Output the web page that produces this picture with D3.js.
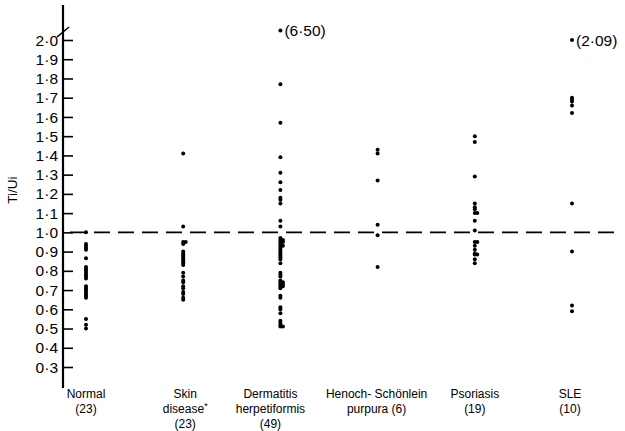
<!DOCTYPE html>
<html>
<head>
<meta charset="utf-8">
<script src="https://cdn.jsdelivr.net/npm/d3@7"></script>
<style>
  html, body { margin: 0; padding: 0; background: #fff; }
  svg { display: block; font-family: "Liberation Sans", "DejaVu Sans", sans-serif; }
</style>
</head>
<body>
<svg id="chart" width="625" height="431"></svg>
<script>
// ---- DATA ----
const categories = ["Normal", "Skin disease", "Dermatitis herpetiformis", "Henoch-Schönlein purpura", "Psoriasis", "SLE"];
const categoryLines = [
  ["Normal", "(23)"],
  ["Skin", "disease*", "(23)"],
  ["Dermatitis", "herpetiformis", "(49)"],
  ["Henoch- Schönlein", "purpura (6)"],
  ["Psoriasis", "(19)"],
  ["SLE", "(10)"]
];
const labelShift = [0, 2, -10, -1, 0, -2];

const normal = [1.00, 0.94, 0.93, 0.92, 0.91, 0.865, 0.82, 0.81, 0.80, 0.79, 0.78, 0.77, 0.76,
  0.72, 0.71, 0.70, 0.69, 0.68, 0.67, 0.66, 0.55, 0.52, 0.50];
const skinDisease = [1.41, 1.03, 0.95, 0.95, 0.94, 0.90, 0.89, 0.88, 0.87, 0.86, 0.85, 0.84, 0.83,
  0.79, 0.77, 0.75, 0.74, 0.72, 0.71, 0.69, 0.68, 0.66, 0.65];
const dermatitis = [1.77, 1.57, 1.39, 1.31, 1.26, 1.22, 1.18, 1.17, 1.15, 1.06, 1.03,
  0.97, 0.96, 0.96, 0.95, 0.95, 0.94, 0.93, 0.93, 0.92, 0.91, 0.90, 0.89, 0.88, 0.87, 0.86, 0.84,
  0.79, 0.78, 0.77, 0.75, 0.74, 0.74, 0.73, 0.73, 0.72, 0.72, 0.71, 0.67, 0.66,
  0.61, 0.60, 0.58, 0.54, 0.53, 0.52, 0.51, 0.51];
const henoch = [1.43, 1.41, 1.27, 1.04, 0.985, 0.82];
const psoriasis = [1.50, 1.47, 1.29, 1.15, 1.13, 1.12, 1.10, 1.10, 1.06, 1.01,
  0.95, 0.95, 0.93, 0.91, 0.89, 0.885, 0.885, 0.86, 0.84];
const sle = [1.70, 1.69, 1.68, 1.66, 1.62, 1.15, 0.90, 0.62, 0.59];
const groups = [normal, skinDisease, dermatitis, henoch, psoriasis, sle];

// values beyond the axis break: shown at the top with their value written
const outlierGroup = [2, 5];
const outlierValue = [6.50, 2.09];
const outlierPlotAt = [2.05, 2.0];

const yTicks = [2.0, 1.9, 1.8, 1.7, 1.6, 1.5, 1.4, 1.3, 1.2, 1.1, 1.0, 0.9, 0.8, 0.7, 0.6, 0.5, 0.4, 0.3];
const refLine = 1.0;

// ---- SCALES ----
const svg = d3.select("#chart");
const axisX = 63;

const y = d3.scaleLinear().domain([0.3, 2.0]).range([367, 40]);
const x = d3.scalePoint().domain(categories).range([86, 572]);

const fmt = v => d3.format(".1f")(v).replace(".", "\u00b7");
const fmt2 = v => d3.format(".2f")(v).replace(".", "\u00b7");

// ---- AXIS ----
const axis = d3.axisRight(y)
  .tickValues(yTicks)
  .tickSize(10)
  .tickFormat("");

const ag = svg.append("g")
  .attr("transform", `translate(${axisX},0)`)
  .call(axis);
ag.select(".domain").remove();
ag.selectAll(".tick line").attr("stroke", "#000").attr("stroke-width", 1.6);

svg.append("line")
  .attr("x1", axisX).attr("x2", axisX)
  .attr("y1", 5).attr("y2", 388)
  .attr("stroke", "#000").attr("stroke-width", 2.2);

// break mark
svg.append("line")
  .attr("x1", axisX - 6).attr("y1", y(2.0) - 3)
  .attr("x2", axisX + 6).attr("y2", y(2.0) - 13)
  .attr("stroke", "#000").attr("stroke-width", 1.6);

svg.append("g").selectAll("text")
  .data(yTicks)
  .join("text")
  .attr("x", axisX - 5)
  .attr("y", d => y(d))
  .attr("dy", "0.36em")
  .attr("text-anchor", "end")
  .attr("font-size", 15.5)
  .attr("fill", "#000")
  .text(fmt);

svg.append("text")
  .attr("transform", `translate(17,190) rotate(-90)`)
  .attr("text-anchor", "middle")
  .attr("font-size", 13.5)
  .attr("fill", "#000")
  .text("Ti/Ui");

// ---- REFERENCE LINE ----
svg.append("line")
  .attr("x1", 70).attr("x2", 616)
  .attr("y1", y(refLine)).attr("y2", y(refLine))
  .attr("stroke", "#000")
  .attr("stroke-width", 1.8)
  .attr("stroke-dasharray", "16,8");

// ---- POINTS ----
let points = [];
groups.forEach((vals, gi) => {
  let sorted = vals.slice().sort((a, b) => b - a);
  let prevY = -99, prevDx = 0;
  sorted.forEach(v => {
    let py = y(v);
    let dx = 0;
    if (Math.abs(py - prevY) < 1.5) dx = prevDx === 0 ? 2.5 : 0;
    points.push({ cx: x(categories[gi]) + dx, cy: py });
    prevY = py;
    prevDx = dx;
  });
});

svg.append("g").selectAll("circle")
  .data(points)
  .join("circle")
  .attr("cx", d => d.cx)
  .attr("cy", d => d.cy)
  .attr("r", 2)
  .attr("fill", "#000");

// outliers
const og = svg.append("g");
outlierGroup.forEach((gi, i) => {
  let cx = x(categories[gi]);
  let cy = y(outlierPlotAt[i]);
  og.append("circle").attr("cx", cx).attr("cy", cy).attr("r", 2).attr("fill", "#000");
  og.append("text")
    .attr("x", cx + 4)
    .attr("y", cy)
    .attr("dy", "0.36em")
    .attr("font-size", 15.5)
    .attr("fill", "#000")
    .text("(" + fmt2(outlierValue[i]) + ")");
});

// ---- CATEGORY LABELS ----
const lg = svg.append("g");
categoryLines.forEach((lines, i) => {
  let t = lg.append("text")
    .attr("text-anchor", "middle")
    .attr("font-size", 12)
    .attr("fill", "#000");
  lines.forEach((s, k) => {
    let ts = t.append("tspan")
      .attr("x", x(categories[i]) + labelShift[i])
      .attr("y", 398 + k * 15);
    if (s.endsWith("*")) {
      ts.text(s.slice(0, -1));
      ts.append("tspan").attr("dy", -4).attr("font-size", 9).text("*");
    } else {
      ts.text(s);
    }
  });
});
</script>
</body>
</html>
